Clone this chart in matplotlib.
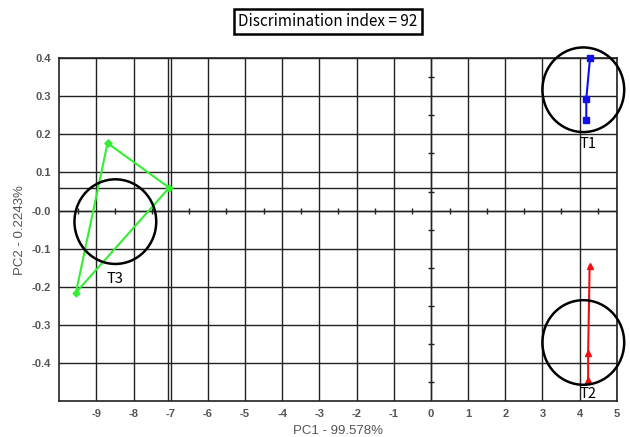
import matplotlib.pyplot as plt
import numpy as np
from matplotlib.patches import Ellipse

# sample scores on PC1 / PC2
t1_x = [4.28, 4.18, 4.18]
t1_y = [0.40, 0.293, 0.238]
t2_x = [4.27, 4.23, 4.23]
t2_y = [-0.145, -0.373, -0.445]
t3_x = [-8.70, -7.04, -9.55, -8.70]
t3_y = [0.177, 0.060, -0.215, 0.177]

# group circles: name, centre x, centre y, label x, label y
groups = ['T1', 'T2', 'T3']
circle_x = [4.10, 4.10, -8.49]
circle_y = [0.317, -0.346, -0.029]
label_x = [4.23, 4.23, -8.50]
label_y = [0.175, -0.480, -0.180]

xticks = list(range(-9, 6))
yticks = [0.4, 0.3, 0.2, 0.1, 0.0, -0.1, -0.2, -0.3, -0.4]
ytick_labels = ['0.4', '0.3', '0.2', '0.1', '-0.0', '-0.1', '-0.2', '-0.3', '-0.4']

fig = plt.figure(figsize=(6.3, 4.37), dpi=100)
ax = fig.add_axes([0.094, 0.082, 0.885, 0.785])
ax.set_xlim(-10, 5)
ax.set_ylim(-0.5, 0.4)

ax.set_xticks(xticks)
ax.set_xticklabels([str(t) for t in xticks])
ax.set_yticks(yticks)
ax.set_yticklabels(ytick_labels)
ax.grid(True, color='#222222', linewidth=1.0)
ax.set_axisbelow(True)
ax.tick_params(length=0, pad=6, labelsize=8, labelcolor='#555555')
for lab in ax.get_xticklabels() + ax.get_yticklabels():
    lab.set_fontweight('bold')
    lab.set_family('Liberation Sans')
for s in ax.spines.values():
    s.set_color('#222222')
    s.set_linewidth(1.2)

# crosshair through the selected green point
ax.axvline(t3_x[1] - 0.03, color='#222222', linewidth=1.0)
ax.axhline(t3_y[1], color='#222222', linewidth=1.0)

# axis lines with half-step ticks
ax.axhline(0, color='#222222', linewidth=1.0)
ax.axvline(0, color='#222222', linewidth=1.0)
hx = np.arange(-9.5, 5, 1.0)
ax.plot(hx, np.zeros_like(hx), linestyle='none', marker='|', markersize=5, color='#222222', markeredgewidth=1)
hy = np.arange(-0.45, 0.4, 0.1)
ax.plot(np.zeros_like(hy), hy, linestyle='none', marker='_', markersize=5, color='#222222', markeredgewidth=1)

ax.plot(t1_x, t1_y, color='#1010ee', linewidth=1.5, marker='s', markersize=4, clip_on=False, zorder=4)
ax.plot(t2_x, t2_y, color='#ee1010', linewidth=1.5, marker='^', markersize=4.5)
ax.plot(t3_x, t3_y, color='#33ee33', linewidth=1.5, marker='D', markersize=3.5)

for i in range(len(groups)):
    e = Ellipse((circle_x[i], circle_y[i]), width=2.2, height=0.222, fill=False,
                edgecolor='black', linewidth=1.8, clip_on=False, zorder=5)
    ax.add_patch(e)
    ax.text(label_x[i], label_y[i], groups[i], ha='center', va='center',
            fontsize=10.5, family='Noto Sans CJK KR', color='black')

ax.set_xlabel('PC1 - 99.578%', fontsize=9.5, color='#555555', family='Liberation Sans', labelpad=4)
ax.set_ylabel('PC2 - 0.2243%', fontsize=9.5, color='#555555', family='Liberation Sans', labelpad=4)

fig.text(0.52, 0.951, 'Discrimination index = 92', ha='center', va='center', fontsize=11,
         family='Noto Sans CJK KR', fontweight='medium',
         bbox=dict(boxstyle='square,pad=0.28', facecolor='white', edgecolor='black', linewidth=1.8))

fig.savefig('out.png', dpi=100)
